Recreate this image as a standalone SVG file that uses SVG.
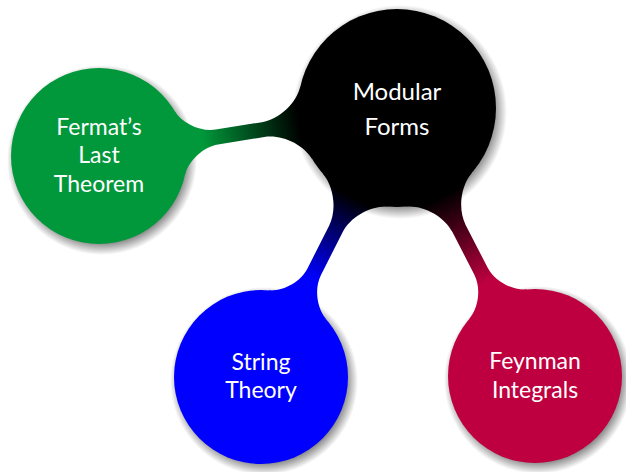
<svg xmlns="http://www.w3.org/2000/svg" width="626" height="472" viewBox="0 0 626 472">
<style>
.lbl{font-family:Lato,"Noto Sans","DejaVu Sans",sans-serif;font-weight:400;fill:#fff;text-anchor:middle}
.root{font-size:24px}
.child{font-size:23px}
</style>
<defs>
<radialGradient id="sh">
<stop offset="0" stop-color="#000" stop-opacity="0.5"/>
<stop offset="0.86" stop-color="#000" stop-opacity="0.5"/>
<stop offset="1" stop-color="#000" stop-opacity="0"/>
</radialGradient>
<linearGradient id="gGreen" gradientUnits="userSpaceOnUse" x1="99" y1="0" x2="214" y2="0">
<stop offset="0" stop-color="#000"/><stop offset="0.85" stop-color="#00983A"/>
</linearGradient>
<linearGradient id="gBlue" gradientUnits="userSpaceOnUse" x1="99" y1="0" x2="214" y2="0">
<stop offset="0" stop-color="#000"/><stop offset="0.8" stop-color="#0000FF"/>
</linearGradient>
<linearGradient id="gRed" gradientUnits="userSpaceOnUse" x1="99" y1="0" x2="214" y2="0">
<stop offset="0" stop-color="#000"/><stop offset="0.85" stop-color="#BF0040"/>
</linearGradient>
</defs>
<g id="shadows">
<circle cx="400" cy="112" r="107" fill="url(#sh)"/>
<circle cx="102" cy="160" r="95" fill="url(#sh)"/>
<circle cx="264" cy="381" r="94" fill="url(#sh)"/>
<circle cx="538" cy="380" r="94" fill="url(#sh)"/>
</g>
<g id="connectors">
<path fill="url(#gGreen)" transform="translate(397 108) rotate(170.85)" d="M91.79,37.09 C98.36,20.82 118.1,7.5 135.65,7.5 L182.49,7.5 C197.6,7.5 214.59,18.96 220.25,32.97 L220.25,-32.97 C214.59,-18.96 197.6,-7.5 182.49,-7.5 L135.65,-7.5 C118.1,-7.5 98.36,-20.82 91.79,-37.09 Z"/>
<path fill="url(#gBlue)" transform="translate(397 108) rotate(116.82)" d="M91.79,37.09 C98.36,20.82 118.1,7.5 135.65,7.5 L183.57,7.5 C198.45,7.5 215.2,18.79 220.77,32.59 L220.77,-32.59 C215.2,-18.79 198.45,-7.5 183.57,-7.5 L135.65,-7.5 C118.1,-7.5 98.36,-20.82 91.79,-37.09 Z"/>
<path fill="url(#gRed)" transform="translate(397 108) rotate(62.76)" d="M91.79,37.09 C98.36,20.82 118.1,7.5 135.65,7.5 L183.57,7.5 C198.45,7.5 215.2,18.79 220.77,32.59 L220.77,-32.59 C215.2,-18.79 198.45,-7.5 183.57,-7.5 L135.65,-7.5 C118.1,-7.5 98.36,-20.82 91.79,-37.09 Z"/>
</g>
<g id="node-modular-forms">
<circle cx="397" cy="108" r="99" fill="#000"/>
<text class="lbl root" x="397" y="100">Modular</text>
<text class="lbl root" x="397" y="135">Forms</text>
</g>
<g id="node-fermat">
<circle cx="99" cy="156" r="88" fill="#00983A"/>
<text class="lbl child" x="99" y="135">Fermat’s</text>
<text class="lbl child" x="99" y="163">Last</text>
<text class="lbl child" x="99" y="192">Theorem</text>
</g>
<g id="node-string-theory">
<circle cx="261" cy="377" r="87" fill="#0000FF"/>
<text class="lbl child" x="261" y="370">String</text>
<text class="lbl child" x="261" y="398">Theory</text>
</g>
<g id="node-feynman-integrals">
<circle cx="535" cy="376" r="87" fill="#BF0040"/>
<text class="lbl child" x="535" y="369">Feynman</text>
<text class="lbl child" x="535" y="398">Integrals</text>
</g>
</svg>
